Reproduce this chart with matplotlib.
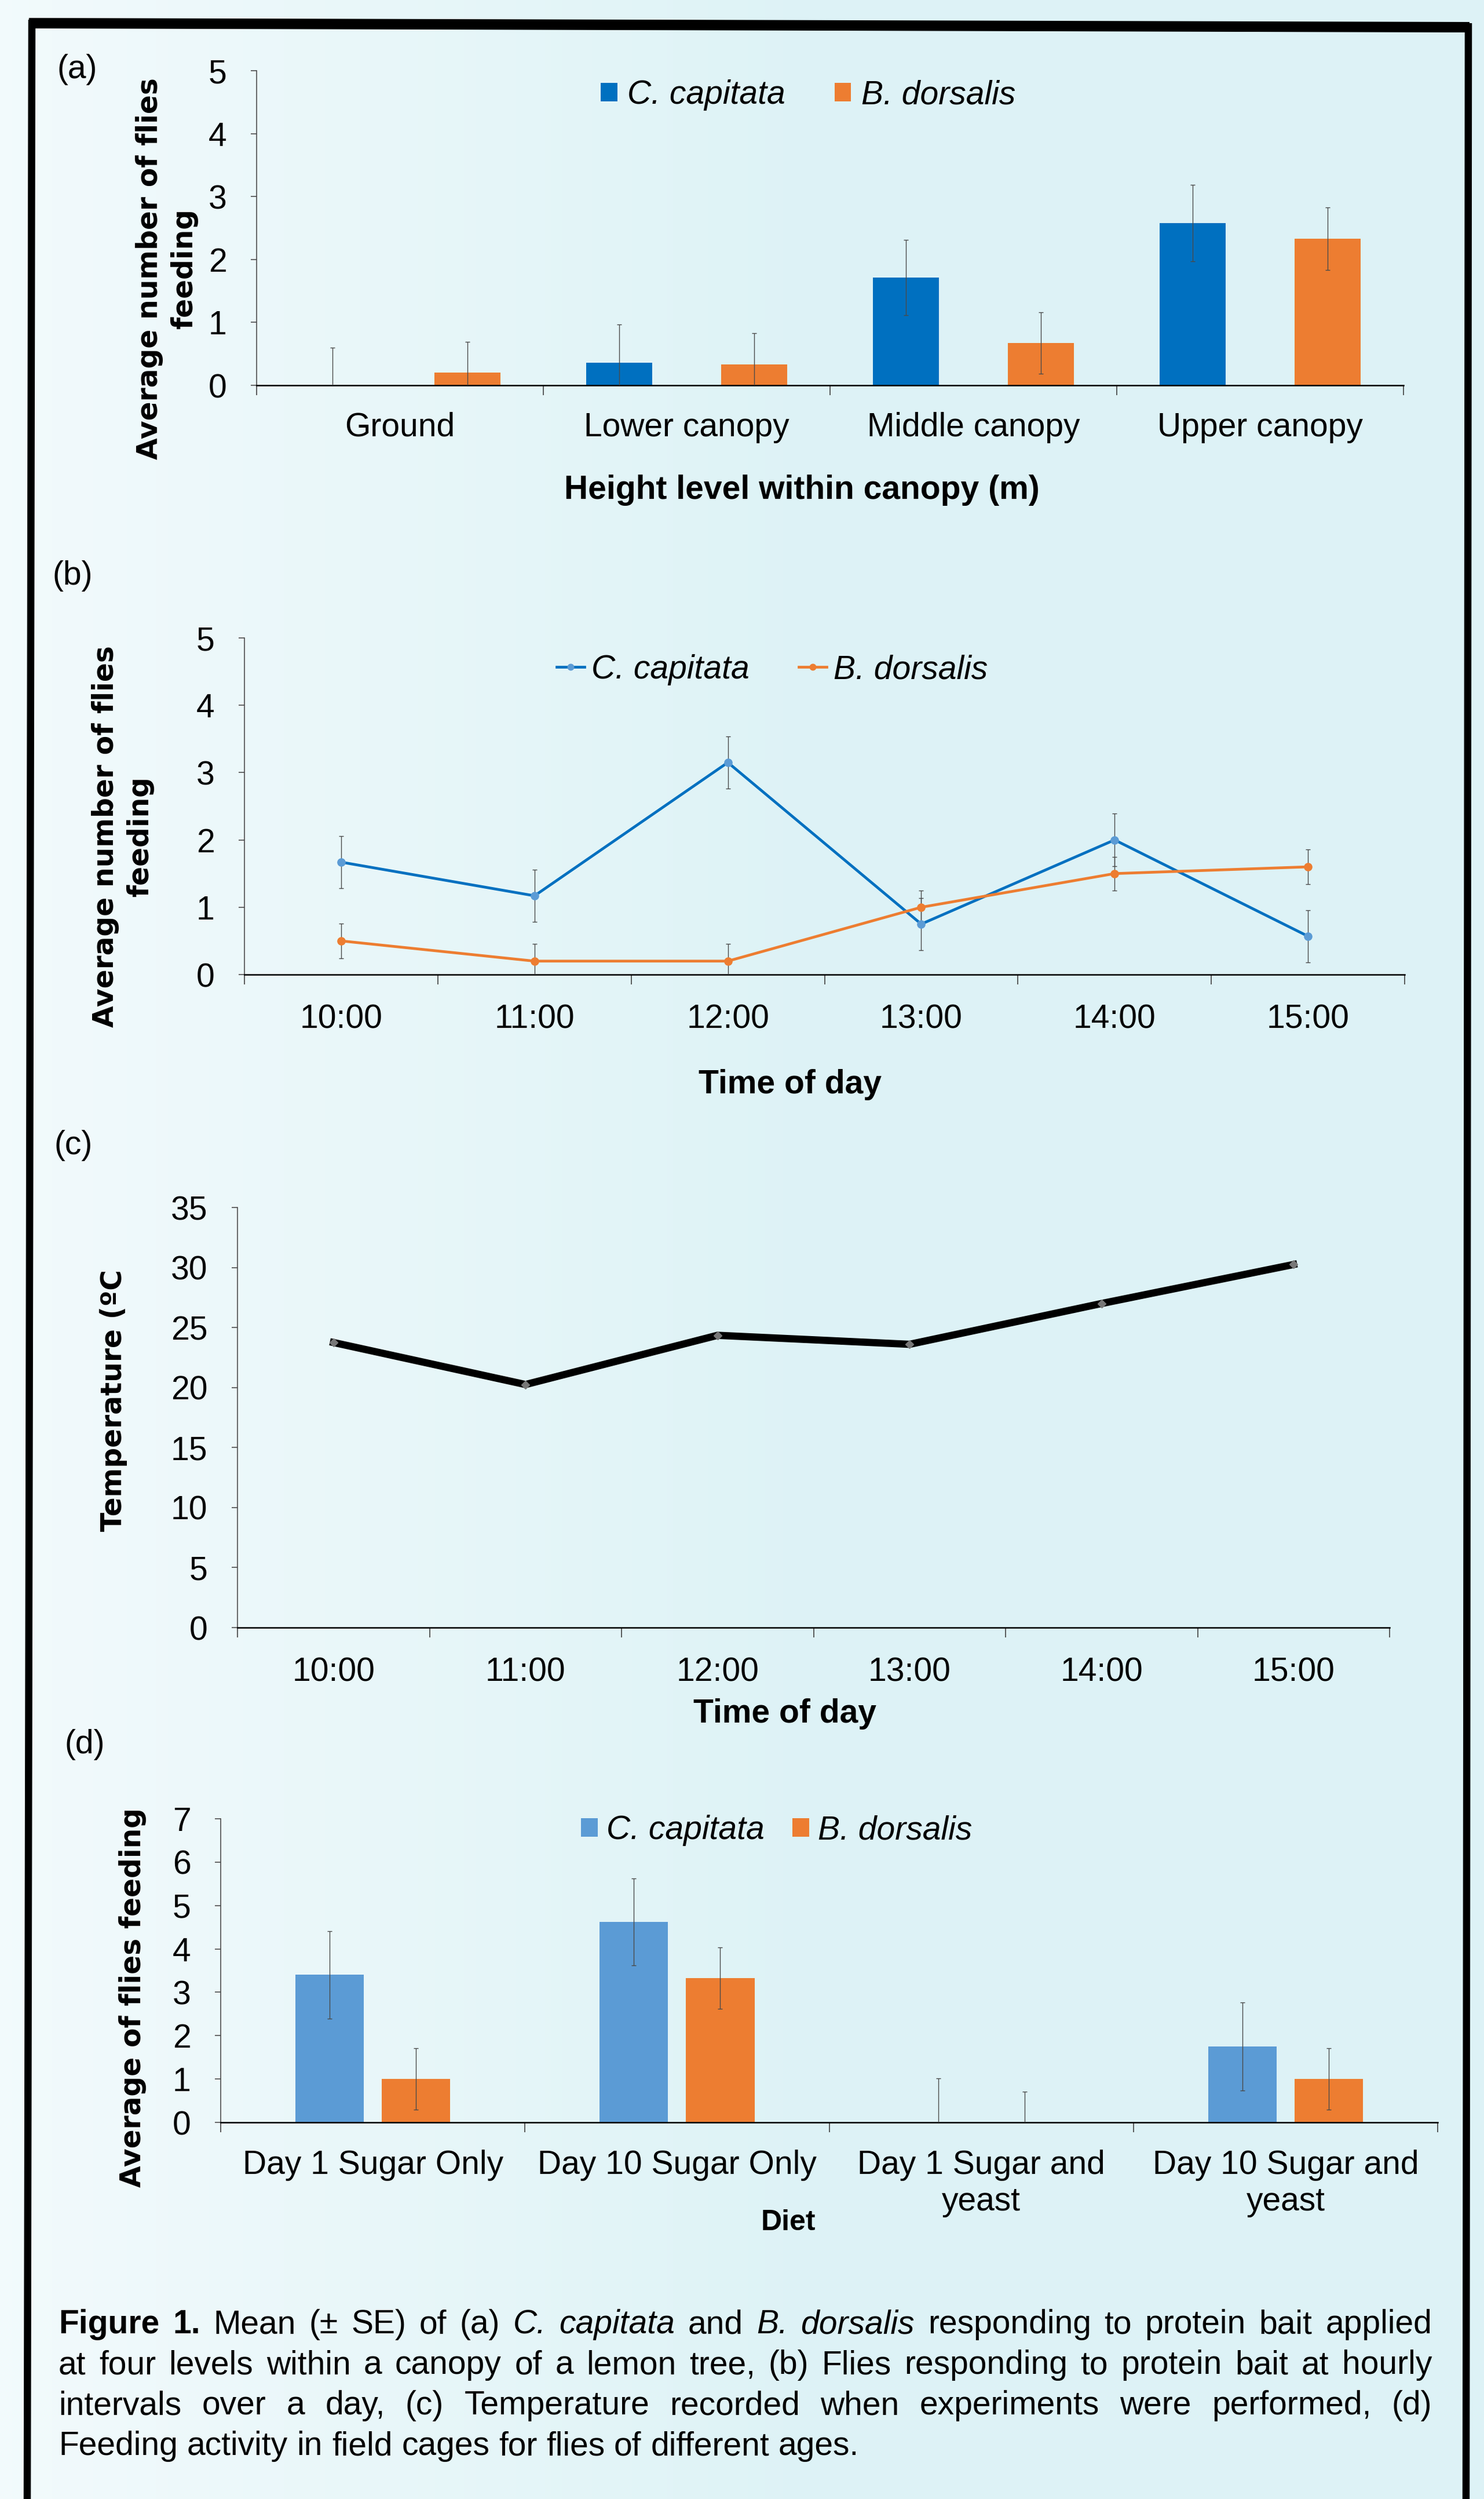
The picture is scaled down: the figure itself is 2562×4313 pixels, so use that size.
import numpy as np
import matplotlib
matplotlib.use('Agg')
import matplotlib.pyplot as plt
from matplotlib.lines import Line2D

# ---- data ----
height_levels = ["Ground", "Lower canopy", "Middle canopy", "Upper canopy"]
a_capitata = [0.0, 0.36, 1.71, 2.58]
a_capitata_se = [0.60, 0.61, 0.60, 0.61]
a_dorsalis = [0.20, 0.33, 0.67, 2.33]
a_dorsalis_se = [0.49, 0.50, 0.49, 0.50]

times = ["10:00", "11:00", "12:00", "13:00", "14:00", "15:00"]
b_capitata = [1.67, 1.17, 3.15, 0.75, 2.00, 0.57]
b_capitata_se = [0.39, 0.39, 0.385, 0.385, 0.39, 0.385]
b_dorsalis = [0.50, 0.20, 0.20, 1.00, 1.50, 1.60]
b_dorsalis_se = [0.26, 0.26, 0.26, 0.25, 0.25, 0.26]

temperature = [23.75, 20.25, 24.35, 23.6, 27.0, 30.25]

diets = ["Day 1 Sugar Only", "Day 10 Sugar Only", "Day 1 Sugar and\nyeast", "Day 10 Sugar and\nyeast"]
d_capitata = [3.40, 4.62, 0.0, 1.75]
d_capitata_se = [1.01, 1.00, 1.01, 1.01]
d_dorsalis = [1.00, 3.33, 0.0, 1.00]
d_dorsalis_se = [0.71, 0.71, 0.71, 0.71]

caption = [
    [("Figure 1.", "bold", "normal"), ("Mean (± SE) of (a)", "normal", "normal"),
     ("C. capitata", "normal", "italic"), ("and", "normal", "normal"),
     ("B. dorsalis", "normal", "italic"),
     ("responding to protein bait applied", "normal", "normal")],
    [("at four levels within a canopy of a lemon tree, (b) Flies responding to protein bait at hourly",
      "normal", "normal")],
    [("intervals over a day, (c) Temperature recorded when experiments were performed, (d)",
      "normal", "normal")],
    [("Feeding activity in field cages for flies of different ages.", "normal", "normal")],
]

plt.rcParams['font.family'] = ['Liberation Sans', 'DejaVu Sans']

W, H = 2562, 4313
FS = 41
YLAB_FS = 35
BLUE = '#0070C0'
LBLUE = '#5B9BD5'
ORANGE = '#ED7D31'
ERR = '#4a4a4a'

fig = plt.figure(figsize=(W / 100 + 1e-6, H / 100 + 1e-6), dpi=100)


def fx(x):
    return x / W


def fy(y):
    return 1 - y / H


# background gradient
bg = fig.add_axes([0, 0, 1, 1], zorder=-10)
gx = np.linspace(0, 1, 256)
t = np.clip(0.2 + 1.5 * gx, 0, 1)
c0 = np.array([0.97, 0.99, 0.995])
c1 = np.array([0.87, 0.952, 0.965])
grad = (c0[None, :] * (1 - t[:, None]) + c1[None, :] * t[:, None])[None, :, :]
bg.imshow(grad, aspect='auto', extent=[0, 1, 0, 1])
bg.axis('off')

# border
for xs, ys, lw in [([50, 2537], [40, 47], 13), ([55, 47], [34, H], 9), ([2535, 2531], [40, H], 9)]:
    fig.add_artist(Line2D([fx(v) for v in xs], [fy(v) for v in ys], color='black', lw=lw,
                          solid_capstyle='butt', transform=fig.transFigure))


def add_ax(l, t_, r, b):
    ax = fig.add_axes([fx(l), fy(b), (r - l) / W, (b - t_) / H])
    ax.patch.set_visible(False)
    for s in ['top', 'right']:
        ax.spines[s].set_visible(False)
    ax.spines['left'].set_linewidth(1.1)
    ax.spines['left'].set_color('#404040')
    ax.spines['bottom'].set_linewidth(1.8)
    ax.spines['bottom'].set_color('black')
    return ax


def style_axis(ax, labels, ymax, ystep, xpad):
    n = len(labels)
    ax.set_xlim(-0.5, n - 0.5)
    ax.set_ylim(0, ymax)
    ax.set_yticks(np.arange(0, ymax + ystep / 2, ystep))
    ax.set_xticks(np.arange(n + 1) - 0.5)
    ax.set_xticklabels([])
    ax.set_xticks(np.arange(n), minor=True)
    ax.set_xticklabels(labels, minor=True, linespacing=1.2)
    ax.tick_params(axis='x', which='major', length=12, width=1.2, color='#404040', direction='out')
    ax.tick_params(axis='x', which='minor', length=0, pad=xpad, labelsize=FS)
    ax.tick_params(axis='y', length=7, width=1.1, color='#404040', pad=30, labelsize=FS)


def ylabel(x, y, s):
    fig.text(fx(x), fy(y), s, rotation=90, ha='center', va='center', multialignment='center',
             family='DejaVu Sans', weight='bold', fontsize=YLAB_FS, linespacing=1.3)


def ebar(ax, x, y, e):
    ax.errorbar(x, y, yerr=e, fmt='none', ecolor=ERR, elinewidth=1.0, capsize=3, capthick=1.0, zorder=4)


# ---- (a) ----
ax = add_ax(443, 122, 2423, 665)
x = np.arange(len(height_levels))
ax.bar(x - 0.235, a_capitata, 0.23, color=BLUE, label='C. capitata', zorder=2)
ax.bar(x + 0.235, a_dorsalis, 0.23, color=ORANGE, label='B. dorsalis', zorder=2)
ebar(ax, x - 0.235, a_capitata, a_capitata_se)
ebar(ax, x + 0.235, a_dorsalis, a_dorsalis_se)
style_axis(ax, height_levels, 5, 1, 33)
ax.legend(loc='center', bbox_to_anchor=(fx(1395), fy(164)), bbox_transform=fig.transFigure,
          ncol=2, frameon=False, prop={'style': 'italic', 'size': FS}, handlelength=0.5,
          handleheight=0.5, handletextpad=0.3, columnspacing=1.5)
fig.text(fx(98), fy(120), "(a)", fontsize=FS, va='center', ha='left')
ylabel(288, 464, "Average number of flies\nfeeding")
fig.text(fx(1384), fy(846), "Height level within canopy (m)", fontsize=FS, weight='bold',
         ha='center', va='center')

# ---- (b) ----
ax = add_ax(422, 1101, 2425, 1682)
x = np.arange(len(times))
ebar(ax, x, b_capitata, b_capitata_se)
ebar(ax, x, b_dorsalis, b_dorsalis_se)
l1, = ax.plot(x, b_capitata, '-o', color=BLUE, mfc=LBLUE, mec=LBLUE, lw=3.4, ms=9.5, zorder=5)
l2, = ax.plot(x, b_dorsalis, '-o', color=ORANGE, mfc=ORANGE, mec=ORANGE, lw=3.4, ms=9.5, zorder=5)
style_axis(ax, times, 5, 1, 36)
ax.legend([l1, l2], ['C. capitata', 'B. dorsalis'], loc='center',
          bbox_to_anchor=(fx(1333), fy(1156)), bbox_transform=fig.transFigure,
          ncol=2, frameon=False, prop={'style': 'italic', 'size': FS}, handlelength=0.85,
          handletextpad=0.2, columnspacing=1.5, markerscale=0.8)
fig.text(fx(90), fy(994), "(b)", fontsize=FS, va='center', ha='left')
ylabel(212, 1444, "Average number of flies\nfeeding")
fig.text(fx(1364), fy(1872), "Time of day", fontsize=FS, weight='bold', ha='center', va='center')

# ---- (c) ----
ax = add_ax(410, 2084, 2399, 2809)
ax.plot(x, temperature, '-', color='black', lw=9, zorder=4, solid_joinstyle='miter')
ax.plot(x, temperature, 'D', color='#777777', ms=7, zorder=5)
style_axis(ax, times, 35, 5, 36)
fig.text(fx(93), fy(1977), "(c)", fontsize=FS, va='center', ha='left')
ylabel(196, 2417, "Temperature (ºC")
fig.text(fx(1355), fy(2958), "Time of day", fontsize=FS, weight='bold', ha='center', va='center')

# ---- (d) ----
ax = add_ax(381, 3139, 2482, 3663)
x = np.arange(len(diets))
ax.bar(x - 0.142, d_capitata, 0.225, color=LBLUE, label='C. capitata', zorder=2)
ax.bar(x + 0.142, d_dorsalis, 0.225, color=ORANGE, label='B. dorsalis', zorder=2)
ebar(ax, x - 0.142, d_capitata, d_capitata_se)
ebar(ax, x + 0.142, d_dorsalis, d_dorsalis_se)
style_axis(ax, diets, 7, 1, 34)
ax.legend(loc='center', bbox_to_anchor=(fx(1341), fy(3159)), bbox_transform=fig.transFigure,
          ncol=2, frameon=False, prop={'style': 'italic', 'size': FS}, handlelength=0.5,
          handleheight=0.5, handletextpad=0.27, columnspacing=0.85)
fig.text(fx(111), fy(3011), "(d)", fontsize=FS, va='center', ha='left')
ylabel(229, 3447, "Average of flies feeding")
fig.text(fx(1361), fy(3836), "Diet", fontsize=36, weight='bold', ha='center', va='center')

# ---- caption, justified ----
left, right = 101, 2472
baselines = [4027, 4097, 4167, 4237]
renderer = fig.canvas.get_renderer()
space_px = 0.278 * FS * 100 / 72
for li, line in enumerate(caption):
    words = []
    for run, wgt, sty in line:
        for w in run.split():
            words.append(fig.text(0, fy(baselines[li]), w, fontsize=FS, weight=wgt, style=sty,
                                  ha='left', va='baseline'))
    widths = [t_.get_window_extent(renderer).width for t_ in words]
    if li < len(caption) - 1:
        gap = (right - left - sum(widths)) / (len(words) - 1)
    else:
        gap = space_px
    pos = left
    for t_, w in zip(words, widths):
        t_.set_x(fx(pos))
        pos += w + gap

fig.savefig('out.png', dpi=100)
